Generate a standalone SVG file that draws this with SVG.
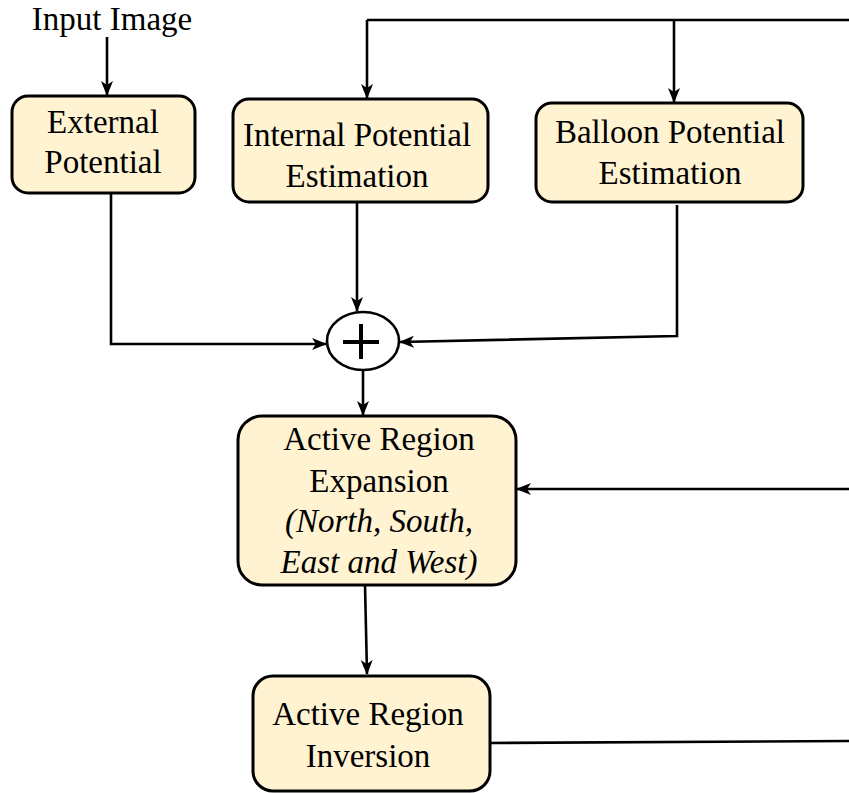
<svg xmlns="http://www.w3.org/2000/svg" width="849" height="793" viewBox="0 0 849 793">
  <style>
    .box { fill: #FFF3D2; stroke: #000; stroke-width: 3; }
    .lbl { font-family: "Liberation Serif", "Times New Roman", serif; font-size: 33px; fill: #000; text-anchor: middle; }
    .it { font-style: italic; }
    .wire { fill: none; stroke: #000; stroke-width: 2.6; }
    .arr { marker-end: url(#head); }
  </style>
  <defs>
    <marker id="head" viewBox="0 0 15 12" refX="14" refY="6" markerWidth="15" markerHeight="12" markerUnits="userSpaceOnUse" orient="auto">
      <path d="M0,0 L15,6 L0,12 L4,6 z" fill="#000"/>
    </marker>
  </defs>
  <rect width="849" height="793" fill="#fff"/>

  <g id="connectors">
    <path class="wire arr" d="M107,37 L107,95"/>
    <path class="wire" d="M849,20 L367,20"/>
    <path class="wire arr" d="M367,20 L367,98"/>
    <path class="wire arr" d="M674,20 L674,102"/>
    <path class="wire arr" d="M111,193 L111,344 L326,344"/>
    <path class="wire arr" d="M357,202 L357,311"/>
    <path class="wire arr" d="M677,205 L677,336 L400,342"/>
    <path class="wire arr" d="M363,370 L363,415"/>
    <path class="wire arr" d="M849,489 L517,489"/>
    <path class="wire arr" d="M365,585 L367,674"/>
    <path class="wire" d="M490,743 L849,741"/>
  </g>

  <g id="input-image">
    <text class="lbl" x="112" y="30">Input Image</text>
  </g>

  <g id="external-potential">
    <rect class="box" x="12" y="96" width="183" height="97" rx="16"/>
    <text class="lbl" x="103" y="133">External</text>
    <text class="lbl" x="103" y="173">Potential</text>
  </g>

  <g id="internal-potential">
    <rect class="box" x="233" y="99" width="255" height="103" rx="16"/>
    <text class="lbl" x="357" y="146">Internal Potential</text>
    <text class="lbl" x="357" y="187">Estimation</text>
  </g>

  <g id="balloon-potential">
    <rect class="box" x="536" y="103" width="267" height="99" rx="16"/>
    <text class="lbl" x="670" y="143">Balloon Potential</text>
    <text class="lbl" x="670" y="184">Estimation</text>
  </g>

  <g id="sum">
    <ellipse cx="363" cy="341" rx="36" ry="29" fill="#fff" stroke="#000" stroke-width="2.6"/>
    <path d="M343,342 L379,342 M361,324 L361,359" stroke="#000" stroke-width="4" fill="none"/>
  </g>

  <g id="region-expansion">
    <rect class="box" x="238" y="416" width="278" height="169" rx="24"/>
    <text class="lbl" x="379" y="450">Active Region</text>
    <text class="lbl" x="379" y="492">Expansion</text>
    <text class="lbl it" x="379" y="532">(North, South,</text>
    <text class="lbl it" x="379" y="573">East and West)</text>
  </g>

  <g id="region-inversion">
    <rect class="box" x="253" y="676" width="237" height="115" rx="20"/>
    <text class="lbl" x="368" y="725">Active Region</text>
    <text class="lbl" x="368" y="767">Inversion</text>
  </g>
</svg>
